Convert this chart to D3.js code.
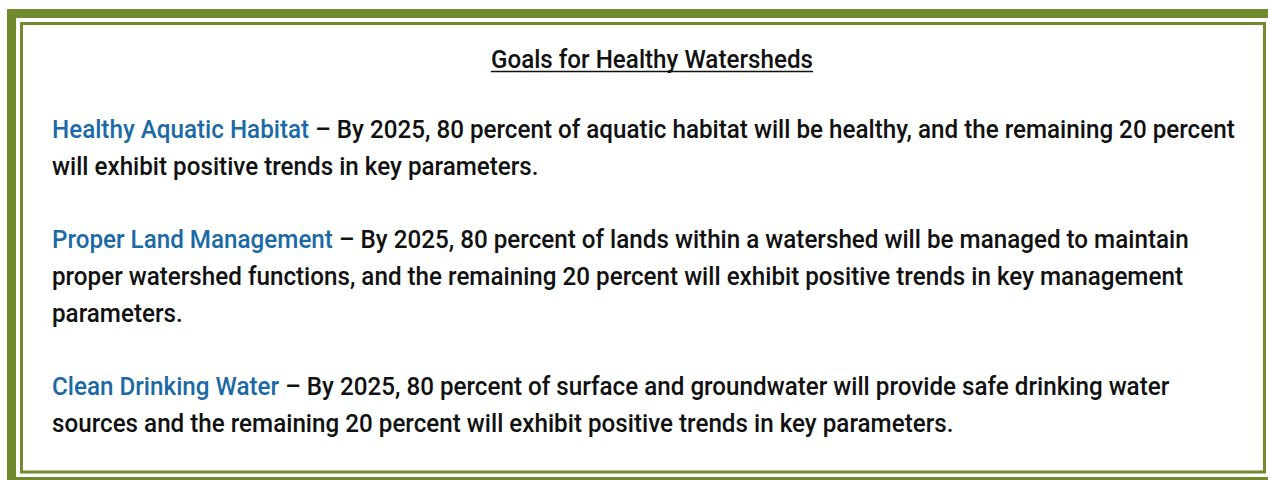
<!DOCTYPE html>
<html>
<head>
<meta charset="utf-8">
<script src="https://cdn.jsdelivr.net/npm/d3@7"></script>
<style>
  html, body { margin: 0; padding: 0; background: #fff; overflow: hidden; }
  text { font-family: Roboto, "DejaVu Sans Condensed", "Liberation Sans", sans-serif; }
</style>
</head>
<body>
<div id="body"></div>
<script>
var title = "Goals for Healthy Watersheds";

var goals = ["Healthy Aquatic Habitat", "Proper Land Management", "Clean Drinking Water"];

var goalText = [
    [" \u2013 By 2025, 80 percent of aquatic habitat will be healthy, and the remaining 20 percent",
     "will exhibit positive trends in key parameters."],
    [" \u2013 By 2025, 80 percent of lands within a watershed will be managed to maintain",
     "proper watershed functions, and the remaining 20 percent will exhibit positive trends in key management",
     "parameters."],
    [" \u2013 By 2025, 80 percent of surface and groundwater will provide safe drinking water",
     "sources and the remaining 20 percent will exhibit positive trends in key parameters."]
];

var width = 1268,
    height = 480,
    green = "#718a2d",
    blue = "#1b6aa6",
    ink = "#111",
    fontSize = 25.5,
    left = 52,
    right = 1229,
    lineH = 36.7,
    firstBase = 138;

var svg = d3.select("#body").append("svg")
    .attr("width", width)
    .attr("height", height);

svg.append("rect")
    .attr("width", width).attr("height", height)
    .attr("fill", "#fff");

// double frame, the outer one runs off the right and bottom edge
svg.append("rect")
    .attr("x", 11.5).attr("y", 13.5)
    .attr("width", 1263).attr("height", 468)
    .attr("fill", "none")
    .attr("stroke", green)
    .attr("stroke-width", 9);

svg.append("rect")
    .attr("x", 21.5).attr("y", 23.5)
    .attr("width", 1243).attr("height", 448.5)
    .attr("fill", "none")
    .attr("stroke", green)
    .attr("stroke-width", 3);

function rawWidth(t, weight) {
    var n = svg.append("text").attr("font-size", fontSize).attr("font-weight", weight).text(t);
    var w = n.node().getComputedTextLength();
    n.remove();
    return w;
}

// squeeze the face so the widest line fills the box like the condensed original
var sx = (right - left) / (rawWidth(goals[0], 500) + rawWidth(goalText[0][0], 500));

function measure(t, weight) { return rawWidth(t, weight) * sx; }

function put(x, y, t, color, weight) {
    svg.append("text")
        .attr("transform", "translate(" + x + "," + y + ") scale(" + sx + ",1)")
        .attr("font-size", fontSize)
        .attr("font-weight", weight)
        .attr("fill", color)
        .style("white-space", "pre")
        .text(t);
}

// title, centred and underlined
var tw = measure(title, 500);
var tx = 652 - tw / 2;
put(tx, 68, title, ink, 500);
svg.append("line")
    .attr("x1", tx).attr("x2", tx + tw)
    .attr("y1", 71.5).attr("y2", 71.5)
    .attr("stroke", ink)
    .attr("stroke-width", 1.6);

var row = 0;
goals.forEach(function(g, i) {
    var y = firstBase + row * lineH;
    put(left, y, g, blue, 500);
    put(left + measure(g, 500), y, goalText[i][0], ink, 500);
    row++;
    goalText[i].slice(1).forEach(function(line) {
        put(left, firstBase + row * lineH, line, ink, 500);
        row++;
    });
    row++;
});
</script>
</body>
</html>
